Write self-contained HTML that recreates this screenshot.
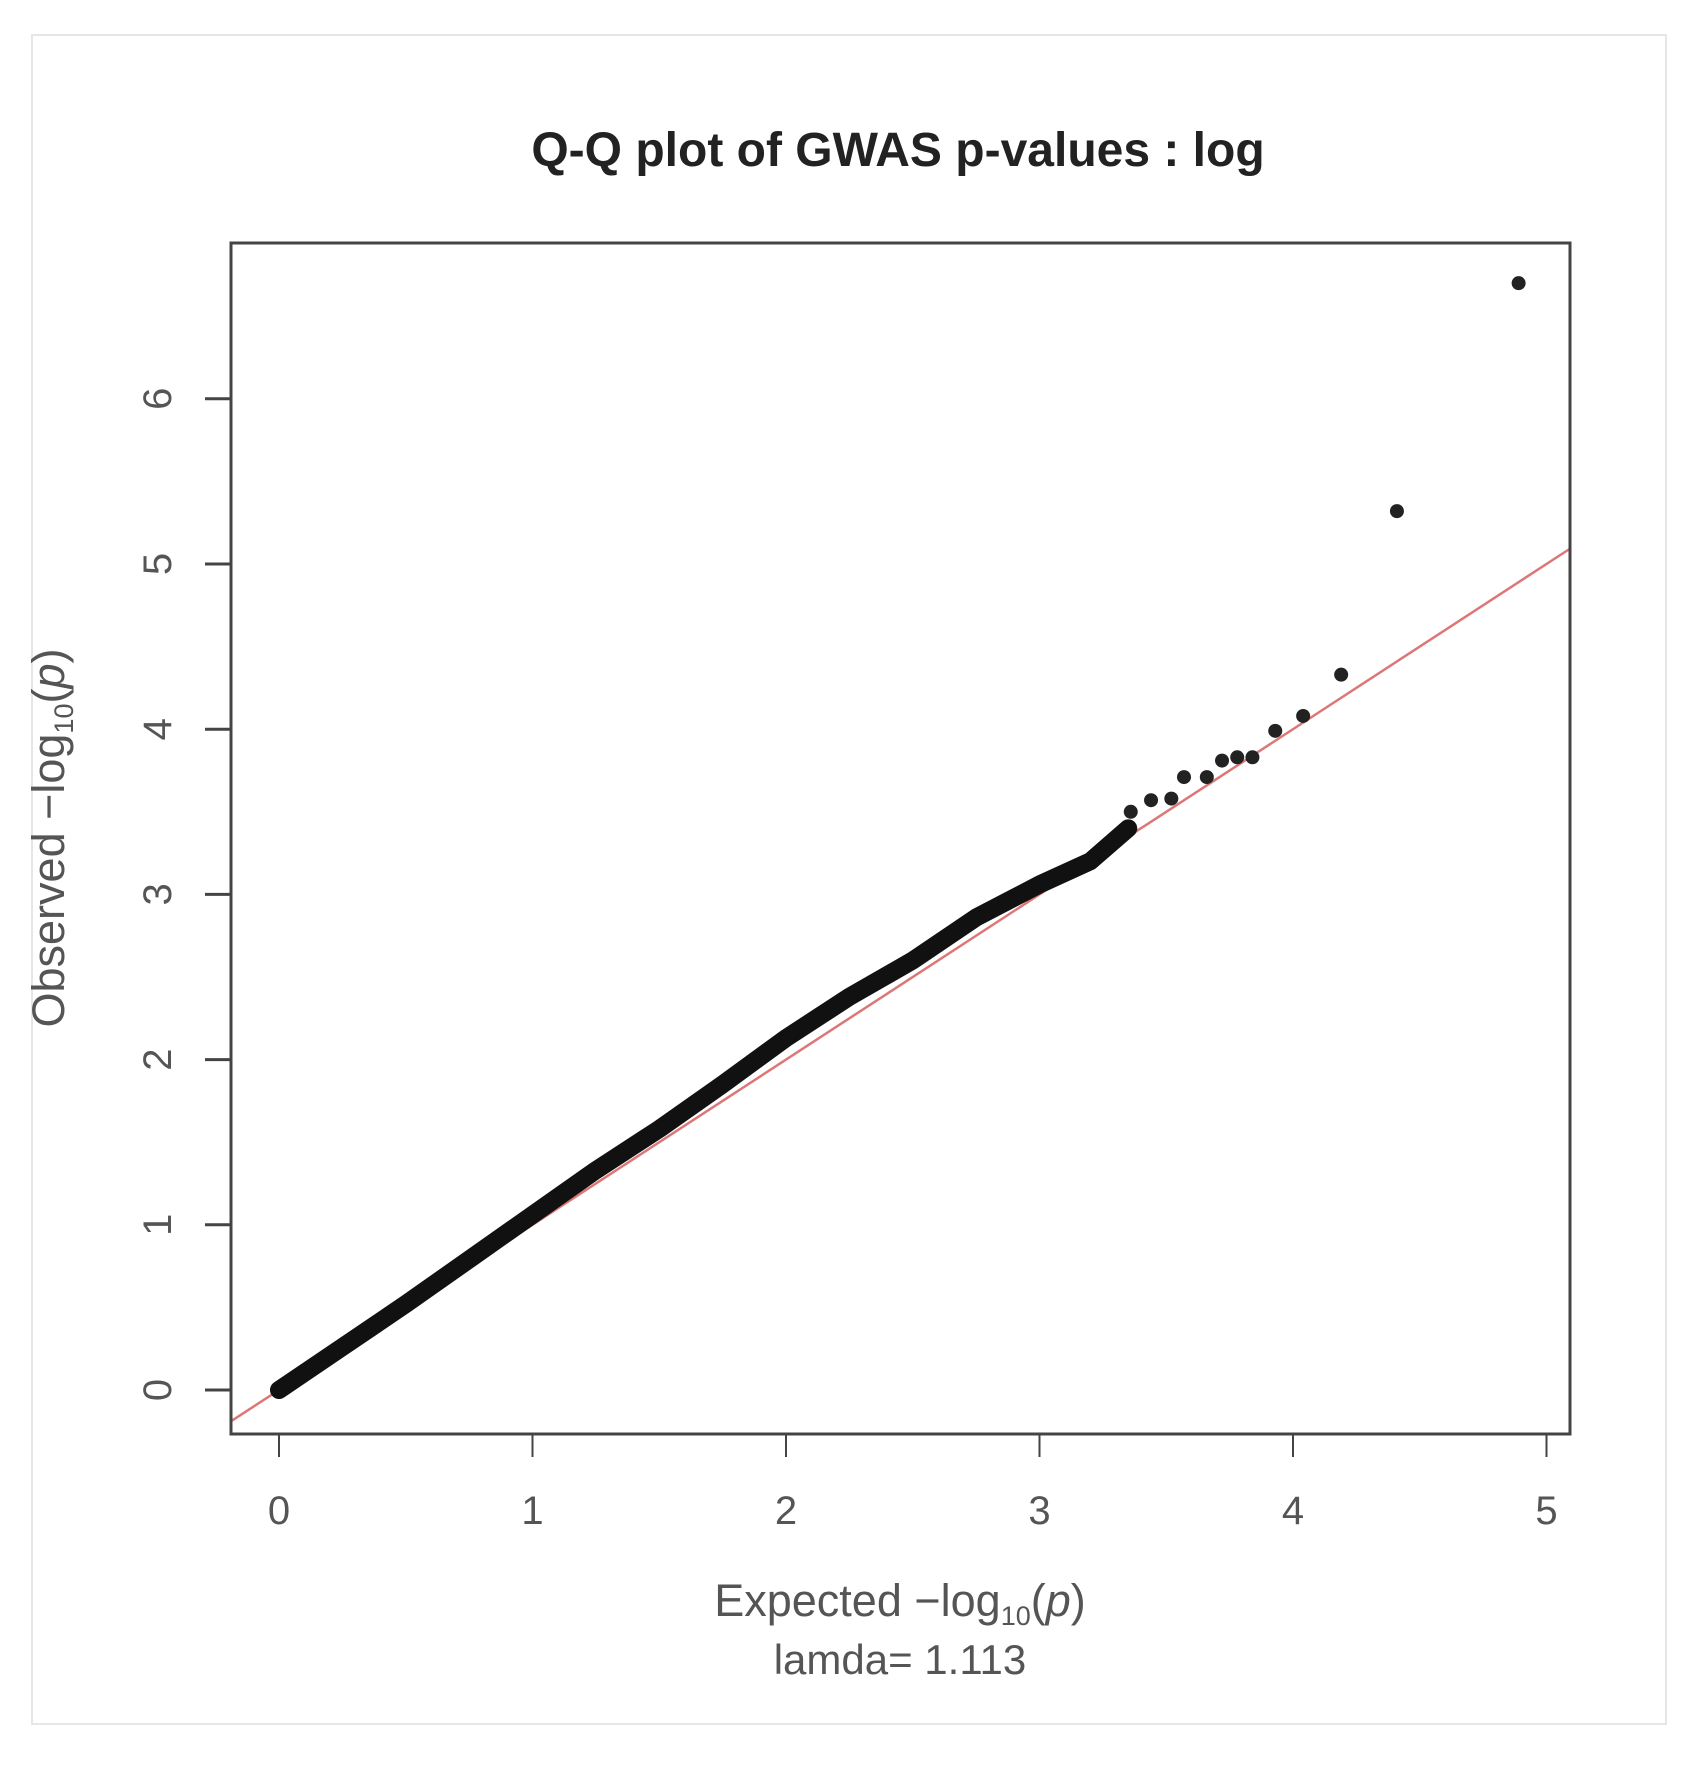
<!DOCTYPE html>
<html><head><meta charset="utf-8">
<style>
html,body{margin:0;padding:0;background:#fff;}
svg{display:block;font-family:"Liberation Sans",sans-serif;}
</style></head>
<body>
<svg id="chart" width="1693" height="1767" viewBox="0 0 1693 1767">
<rect x="32" y="35" width="1634" height="1689" fill="#fff" stroke="#e6e6e6" stroke-width="2"/>
<text x="898" y="166" text-anchor="middle" font-size="48" font-weight="bold" fill="#222">Q-Q plot of GWAS p-values : log</text>
<defs><clipPath id="plotclip"><rect x="231" y="243" width="1339" height="1191"/></clipPath></defs>
<g id="marks" clip-path="url(#plotclip)"></g>
<rect x="231" y="243" width="1339" height="1191" fill="none" stroke="#444" stroke-width="3"/>
<g id="axes"></g>
<text x="900" y="1616" text-anchor="middle" font-size="45" fill="#555">Expected −log<tspan font-size="27" dy="9">10</tspan><tspan dy="-9">(</tspan><tspan font-style="italic">p</tspan>)</text>
<text x="900" y="1674" text-anchor="middle" font-size="42" fill="#555">lamda= 1.113</text>
<text transform="translate(64,838) rotate(-90)" text-anchor="middle" font-size="45" fill="#555">Observed −log<tspan font-size="27" dy="9">10</tspan><tspan dy="-9">(</tspan><tspan font-style="italic">p</tspan>)</text>
</svg>
<script>
const bandExpected = [0,0.25,0.5,0.75,1,1.25,1.5,1.75,2,2.25,2.5,2.75,3,3.2,3.35];
const bandObserved = [0,0.26,0.52,0.79,1.06,1.33,1.58,1.85,2.13,2.38,2.6,2.86,3.06,3.2,3.40];
const tailExpected = [3.36,3.44,3.52,3.57,3.66,3.72,3.78,3.84,3.93,4.04,4.19,4.41,4.89];
const tailObserved = [3.50,3.57,3.58,3.71,3.71,3.81,3.83,3.83,3.99,4.08,4.33,5.32,6.70];
const xTicks = [0,1,2,3,4,5];
const yTicks = [0,1,2,3,4,5,6];

const NS = "http://www.w3.org/2000/svg";
const x0 = 279, xu = 253.5, y0 = 1390, yu = 165.2;
function sx(v){return x0 + v*xu;}
function sy(v){return y0 - v*yu;}
function mk(tag, attrs, parent){const e=document.createElementNS(NS,tag);for(const k in attrs)e.setAttribute(k,attrs[k]);parent.appendChild(e);return e;}

const marks = document.getElementById('marks');
const axes = document.getElementById('axes');

const ref = mk('line',{x1:sx(-1),y1:sy(-1),x2:sx(6),y2:sy(6),stroke:'#d77',"stroke-width":2.5},marks);



const pts = bandExpected.map((e,i)=>sx(e)+','+sy(bandObserved[i])).join(' ');
const band = mk('polyline',{points:pts,fill:'none',stroke:'#111',"stroke-width":18,"stroke-linecap":'round',"stroke-linejoin":'round'},marks);



tailExpected.forEach((e,i)=>{
  const c = mk('circle',{cx:sx(e),cy:sy(tailObserved[i]),r:7,fill:'#222'},marks);
  
  
});

xTicks.forEach(t=>{
  const l = mk('line',{x1:sx(t),y1:1434,x2:sx(t),y2:1457,stroke:'#444',"stroke-width":2},axes);
  
  
  const tx = mk('text',{x:sx(t),y:1524,"text-anchor":'middle',"font-size":40,fill:'#555'},axes);
  tx.textContent = t;
  
  
});
yTicks.forEach(t=>{
  const l = mk('line',{x1:205,y1:sy(t),x2:231,y2:sy(t),stroke:'#444',"stroke-width":3},axes);
  
  
  const tx = mk('text',{x:0,y:0,transform:'translate(171,'+sy(t)+') rotate(-90)',"text-anchor":'middle',"font-size":40,fill:'#555'},axes);
  tx.textContent = t;
  
  
});
</script>
</body></html>
